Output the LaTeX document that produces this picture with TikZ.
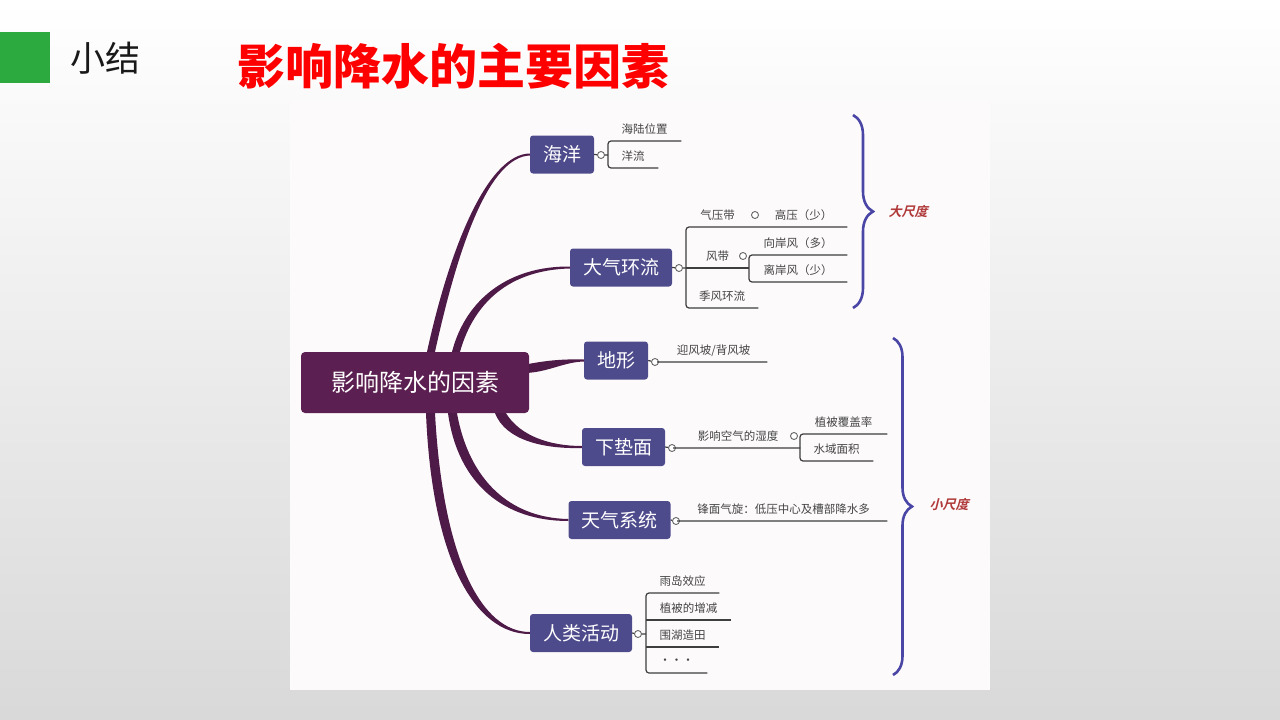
\documentclass[tikz,border=0pt]{standalone}
\usepackage{fontspec}
\setmainfont{Noto Sans CJK SC}
\newfontfamily\slantcjk[FakeSlant=0.25]{Noto Sans CJK SC Bold}
\usetikzlibrary{decorations.pathreplacing}
\definecolor{rootc}{HTML}{5C1F51}
\definecolor{twigc}{HTML}{4E1A47}
\definecolor{branchc}{HTML}{4E4B8C}
\definecolor{linec}{HTML}{3E3E3E}
\definecolor{leaftext}{HTML}{444444}
\definecolor{bracec}{HTML}{4A46A6}
\definecolor{scalec}{HTML}{B03A3A}
\definecolor{headgreen}{HTML}{2DAA3F}
\definecolor{panelc}{HTML}{FDFAFC}
\tikzset{
  rootbox/.style={rounded corners=4pt, fill=rootc, text=white, font=\fontsize{24}{24}\selectfont, inner sep=0pt, minimum width=228pt, minimum height=61pt},
  branch/.style={rounded corners=3pt, fill=branchc, text=white, font=\fontsize{19}{19}\selectfont, inner xsep=13pt, inner ysep=0pt, minimum height=38pt},
  leaf/.style={anchor=south west, inner sep=0pt, minimum height=23pt, text=leaftext, font=\fontsize{11.5}{11.5}\selectfont},
  dot/.style={circle, draw=gray!80!black, fill=white, line width=0.9pt, inner sep=0pt, minimum size=7pt},
  stem/.style={draw=linec, line width=1.2pt, rounded corners=3pt},
  twig/.style={fill=twigc},
  scalebrace/.style={decorate, decoration={brace, amplitude=#1}, draw=bracec, line width=2.6pt},
  scalelabel/.style={text=scalec, font=\slantcjk\fontsize{13}{13}\selectfont}
}
\begin{document}
\begin{tikzpicture}[x=1pt,y=-1pt]
  \useasboundingbox (0,0) rectangle (1280,720);
  \shade[top color=white, bottom color=black!15] (0,0) rectangle (1280,720);
  \fill[panelc] (290,100) rectangle (990,690);

  \fill[headgreen] (0,32) rectangle (50,83);
  \node[text=black!90, font=\fontsize{35}{35}\selectfont] (summary) at (105,58) {小结};
  \node[text=red, font=\fontsize{48}{48}\selectfont\bfseries] (title) at (453,66) {影响降水的主要因素};

  \node[rootbox] (root) at (415,382.5) {影响降水的因素};
  \node[branch] (sea) at (562,154.5) {海洋};
  \node[branch] (atm) at (621,267.5) {大气环流};
  \node[branch] (land) at (616,360.5) {地形};
  \node[branch] (under) at (623.5,447) {下垫面};
  \node[branch] (wx) at (619.5,520) {天气系统};
  \node[branch] (hum) at (581,633) {人类活动};

  \fill[twig] ([xshift=12pt]root.north) .. controls (452,238) and (490,154) .. ([yshift=1pt]sea.west) -- ([yshift=-1pt]sea.west) .. controls (490,157) and (459,242) .. ([xshift=20pt]root.north) -- cycle;
  \fill[twig] ([xshift=37pt]root.north) .. controls (466,298) and (510,266) .. ([yshift=1pt]atm.west) -- ([yshift=-1pt]atm.west) .. controls (510,270) and (474,302) .. ([xshift=45pt]root.north) -- cycle;
  \fill[twig] ([yshift=-12pt]root.north east) .. controls (550,360) and (565,359) .. ([yshift=1pt]land.west) -- ([yshift=-1pt]land.west) .. controls (565,362) and (550,371) .. ([yshift=-21pt]root.north east) -- cycle;
  \fill[twig] ([xshift=80pt]root.south) .. controls (506,441) and (545,449) .. ([yshift=-1pt]under.west) -- ([yshift=1pt]under.west) .. controls (550,446) and (520,436) .. ([xshift=91pt]root.south) -- cycle;
  \fill[twig] ([xshift=33pt]root.south) .. controls (458,485) and (505,521) .. ([yshift=-1pt]wx.west) -- ([yshift=1pt]wx.west) .. controls (510,518) and (469,480) .. ([xshift=42pt]root.south) -- cycle;
  \fill[twig] ([xshift=11pt]root.south) .. controls (432,560) and (475,634) .. ([yshift=-1pt]hum.west) -- ([yshift=1pt]hum.west) .. controls (482,632) and (443,560) .. ([xshift=20pt]root.south) -- cycle;

  \node[dot] (sd) at (601,155) {};
  \node[leaf, minimum width=73pt] (o1) at (608,141) {海陆位置};
  \node[leaf, minimum width=50pt] (o2) at (608,168) {洋流};
  \draw[stem] (sea.east) -- (sd) -- (sd -| o1.south west);
  \draw[stem] (o1.south east) -- (o1.south west) -- (o2.south west) -- (o2.south east);

  \node[dot] (ad) at (679,268) {};
  \node[leaf, minimum width=63pt] (a1) at (686,227) {气压带};
  \node[dot] (a1d) at (755,215) {};
  \node[leaf, minimum width=87pt] (a1b) at (760,227) {高压（少）};
  \node[leaf, minimum width=63pt] (a2) at (686,268) {风带};
  \node[dot] (a2d) at (743,256) {};
  \node[leaf, minimum width=98pt] (a21) at (749,255) {向岸风（多）};
  \node[leaf, minimum width=98pt] (a22) at (749,282) {离岸风（少）};
  \node[leaf, minimum width=72pt] (a3) at (686,308) {季风环流};
  \draw[stem] (atm.east) -- (ad) -- (ad -| a1.south west);
  \draw[stem] (a1b.south east) -- (a1.south west) -- (a3.south west) -- (a3.south east);
  \draw[stem] (a2.south west) -- (a2.south east);
  \draw[stem] (a21.south east) -- (a21.south west) -- (a22.south west) -- (a22.south east);

  \node[dot] (ld) at (655,362) {};
  \node[leaf, minimum width=107pt] (l1) at (660,362) {迎风坡/背风坡};
  \draw[stem] (land.east) -- (ld) -- (l1.south west) -- (l1.south east);

  \node[dot] (ud) at (672,448) {};
  \node[leaf, minimum width=124pt] (u1) at (676,448) {影响空气的湿度};
  \node[dot] (u1d) at (794,436) {};
  \node[leaf, minimum width=87pt] (u11) at (800,434) {植被覆盖率};
  \node[leaf, minimum width=73pt] (u12) at (800,461) {水域面积};
  \draw[stem] (under.east) -- (ud) -- (u1.south west) -- (u1.south east);
  \draw[stem] (u11.south east) -- (u11.south west) -- (u12.south west) -- (u12.south east);

  \node[dot] (wd) at (676,521) {};
  \node[leaf, minimum width=207pt] (w1) at (680,521) {锋面气旋：低压中心及槽部降水多};
  \draw[stem] (wx.east) -- (wd) -- (w1.south west) -- (w1.south east);

  \node[dot] (hd) at (638,634) {};
  \node[leaf, minimum width=73pt] (h1) at (646,593) {雨岛效应};
  \node[leaf, minimum width=85pt] (h2) at (646,620) {植被的增减};
  \node[leaf, minimum width=73pt] (h3) at (646,647) {围湖造田};
  \node[leaf, minimum width=61pt] (h4) at (646,673) {・・・};
  \draw[stem] (hum.east) -- (hd) -- (hd -| h1.south west);
  \draw[stem] (h1.south east) -- (h1.south west) -- (h4.south west) -- (h4.south east);
  \draw[stem] (h2.south west) -- (h2.south east);
  \draw[stem] (h3.south west) -- (h3.south east);

  \coordinate (bigtop) at (853,115);
  \coordinate (bigbot) at (853,308);
  \draw[scalebrace=20pt] (bigtop) -- (bigbot);
  \node[scalelabel] (big) at (908,212) {大尺度};
  \coordinate (smalltop) at (893,338);
  \coordinate (smallbot) at (893,675);
  \draw[scalebrace=19pt] (smalltop) -- (smallbot);
  \node[scalelabel] (small) at (949,505) {小尺度};
\end{tikzpicture}
\end{document}
